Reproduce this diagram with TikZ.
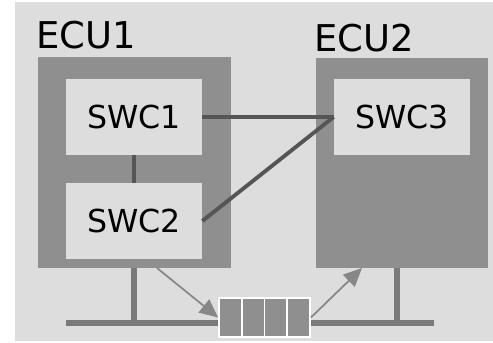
\documentclass[tikz,border=0pt]{standalone}
\usepackage{fontspec}
\setmainfont{DejaVu Sans}
\usetikzlibrary{arrows.meta}

\definecolor{bglight}{HTML}{DDDDDD}
\definecolor{ecugray}{HTML}{8F8F8F}
\definecolor{linkgray}{HTML}{555555}
\definecolor{busgray}{HTML}{7A7A7A}

\tikzset{
	ecubox/.style={fill=ecugray, inner sep=0pt},
	swcbox/.style={fill=bglight, inner sep=0pt, minimum width=2.72cm, minimum height=1.52cm, font=\fontsize{18}{21}\selectfont},
	ecutext/.style={inner sep=0pt, anchor=base west, font=\fontsize{21}{25}\selectfont},
	link/.style={draw=linkgray, line width=2.2pt},
	bus/.style={draw=busgray, line width=3.4pt},
	stub/.style={draw=busgray, line width=3.9pt},
	msg/.style={draw=busgray!90!white, line width=1pt, -{Triangle[length=10.5pt,width=9.5pt]}},
	cell/.style={fill=ecugray, draw=white, line width=1pt, inner sep=0pt, minimum width=0.455cm, minimum height=0.78cm}
}

\begin{document}
\begin{tikzpicture}[x=0.02cm, y=-0.02cm]
	\useasboundingbox (0,0) rectangle (493,342);
	\fill[bglight] (15,2) rectangle (493,341);

	% ECUs
	\node[ecubox, minimum width=3.86cm, minimum height=4.22cm] (ecu1) at (134.5,162.5) {};
	\node[ecubox, minimum width=3.44cm, minimum height=4.2cm] (ecu2) at (402,163) {};
	\node[ecutext] (ecu1label) at (36,48) {ECU1};
	\node[ecutext] (ecu2label) at (314,51) {ECU2};

	% software components
	\node[swcbox] (swc1) at (134,117) {SWC1};
	\node[swcbox] (swc2) at (134,221) {SWC2};
	\node[swcbox] (swc3) at (402,117) {SWC3};

	\draw[link] (swc1.south) -- (swc2.north);
	\draw[link] (swc1.east) -- (swc3.west);
	\draw[link] (swc2.east) -- (swc3.west);

	% bus
	\coordinate (busL) at (66,323);
	\coordinate (busR) at (434,323);
	\coordinate (stub1) at (134,323);
	\coordinate (stub2) at (397,323);
	\draw[bus] (busL) -- (busR);
	\draw[stub] (ecu1.south -| stub1) -- (stub1);
	\draw[stub] (ecu2.south -| stub2) -- (stub2);

	% message queue
	\foreach \i in {0,1,2,3}{
		\node[cell] (q\i) at (230.4+\i*22.75,317.5) {};
	}
	\coordinate (send) at (157,268);
	\coordinate (recv) at (362,268);
	\draw[msg] (send) -- (q0.west);
	\draw[msg] (q3.east) -- (recv);
\end{tikzpicture}
\end{document}
